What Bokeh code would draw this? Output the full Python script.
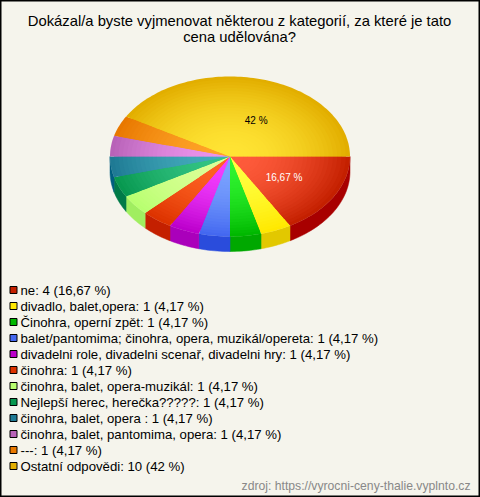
import numpy as np
from bokeh.embed import file_html
from bokeh.plotting import figure
from bokeh.resources import INLINE
from bokeh.core.properties import value

title_lines = ["Dokázal/a byste vyjmenovat některou z kategorií, za které je tato", "cena udělována?"]
source_note = "zdroj: https://vyrocni-ceny-thalie.vyplnto.cz"
categories = ["ne", "divadlo, balet,opera", "Činohra, operní zpět",
              "balet/pantomima; činohra, opera, muzikál/opereta",
              "divadelni role, divadelni scenař, divadelni hry", "činohra",
              "činohra, balet, opera-muzikál", "Nejlepší herec, herečka?????",
              "činohra, balet, opera ", "činohra, balet, pantomima, opera", "---",
              "Ostatní odpovědi"]
counts = [4, 1, 1, 1, 1, 1, 1, 1, 1, 1, 1, 10]
percents = ["16,67 %"] + ["4,17 %"] * 10 + ["42 %"]
edge_colors = ["#C42000", "#FFE800", "#00B800", "#4468F0", "#BC00CC", "#DD3300",
               "#B8FF70", "#089850", "#1F7A94", "#B862B8", "#E87800", "#E2AE00"]
centre_colors = ["#FF5C3C", "#FFFF40", "#30F430", "#7CA4FF", "#F440FF", "#FF6424",
                 "#DCFF98", "#34C484", "#44ACBC", "#EC94EC", "#FFA428", "#FFE434"]
wall_colors = ["#A80000", "#E2C800", "#00A800", "#2A4CDC", "#AA00BB", "#C42000",
               "#A0EE60", "#007A48", "#005F80", "#904890", "#B85800", "#B88800"]
label_index = [0, 11]
label_offset = [(0, 0), (10, 4)]
label_colors = ["#FFFFFF", "#000000"]

W, H = 480, 497
CX, CY, RX, RY, DEPTH = 229.5, 156, 120, 80, 15
BG = "#F5F4EC"

p = figure(width=W, height=H, x_range=(0, W), y_range=(H, 0), output_backend="svg",
           toolbar_location=None, min_border=0, background_fill_color=BG,
           border_fill_color=BG, outline_line_color="#000000", outline_line_width=2,
           styles={"position": "absolute", "left": "0", "top": "0"})
p.xaxis.visible = False
p.yaxis.visible = False
p.grid.visible = False

total = sum(counts)
bounds = np.concatenate([[0], np.cumsum(counts)]) / total * 2 * np.pi

def arc(a, b):
    n = max(2, int((b - a) / np.radians(1.5)) + 1)
    return np.linspace(a, b, n)

# side wall, only on the near half of the disc
wx, wy, wc = [], [], []
for i, col in enumerate(wall_colors):
    a, b = bounds[i], min(bounds[i + 1], np.pi)
    if a >= np.pi:
        continue
    t = arc(a, b)
    xs = CX + RX * np.cos(t)
    ys = CY + RY * np.sin(t)
    wx.append(np.concatenate([xs, xs[::-1]]))
    wy.append(np.concatenate([ys, ys[::-1] + DEPTH]))
    wc.append(col)
p.patches(wx, wy, fill_color=wc, line_color=wc, line_width=0.5)

def rgb(h):
    return np.array([int(h[k:k + 2], 16) for k in (1, 3, 5)], float)

# radial shading: stacked wedges from the rim inwards
RINGS = 28
px, py, pc = [], [], []
for f in np.linspace(1, 0.04, RINGS):
    for i in range(len(counts)):
        t = arc(bounds[i], bounds[i + 1])
        px.append(np.concatenate([[CX], CX + f * RX * np.cos(t)]))
        py.append(np.concatenate([[CY], CY + f * RY * np.sin(t)]))
        c = rgb(centre_colors[i]) + (rgb(edge_colors[i]) - rgb(centre_colors[i])) * f ** 1.9
        pc.append("#%02X%02X%02X" % tuple(int(round(v)) for v in c))
p.patches(px, py, fill_color=pc, line_color=None)

# data labels
lx, ly, lt = [], [], []
for k, i in enumerate(label_index):
    mid = (bounds[i] + bounds[i + 1]) / 2
    lx.append(CX + 0.52 * RX * np.cos(mid) + label_offset[k][0])
    ly.append(CY + 0.52 * RY * np.sin(mid) + label_offset[k][1])
    lt.append(percents[i])
p.text(lx, ly, text=lt, text_color=label_colors, text_font=value("Liberation Sans"),
       text_font_size="10px", text_align="center", text_baseline="middle")

# title
p.text([239, 239], [20, 36], text=title_lines, text_color="#000000",
       text_font=value("Liberation Sans"), text_font_size="14.8px",
       text_align="center", text_baseline="middle")

# legend
rows = 289.5 + 16 * np.arange(len(categories))
p.rect([13] * len(rows), rows, width=7, height=7, width_units="screen", height_units="screen",
       fill_color=edge_colors, line_color="#000000", line_width=1)
p.text([20] * len(rows), rows,
       text=[f"{c}: {n} ({q})" for c, n, q in zip(categories, counts, percents)],
       text_color="#000000", text_font=value("Liberation Sans"), text_font_size="13.2px",
       text_align="left", text_baseline="middle")

p.text([470], [485], text=[source_note], text_color="#888888",
       text_font=value("Liberation Sans"), text_font_size="12.2px",
       text_align="right", text_baseline="middle")

open("out.html", "w").write(file_html(p, INLINE))
